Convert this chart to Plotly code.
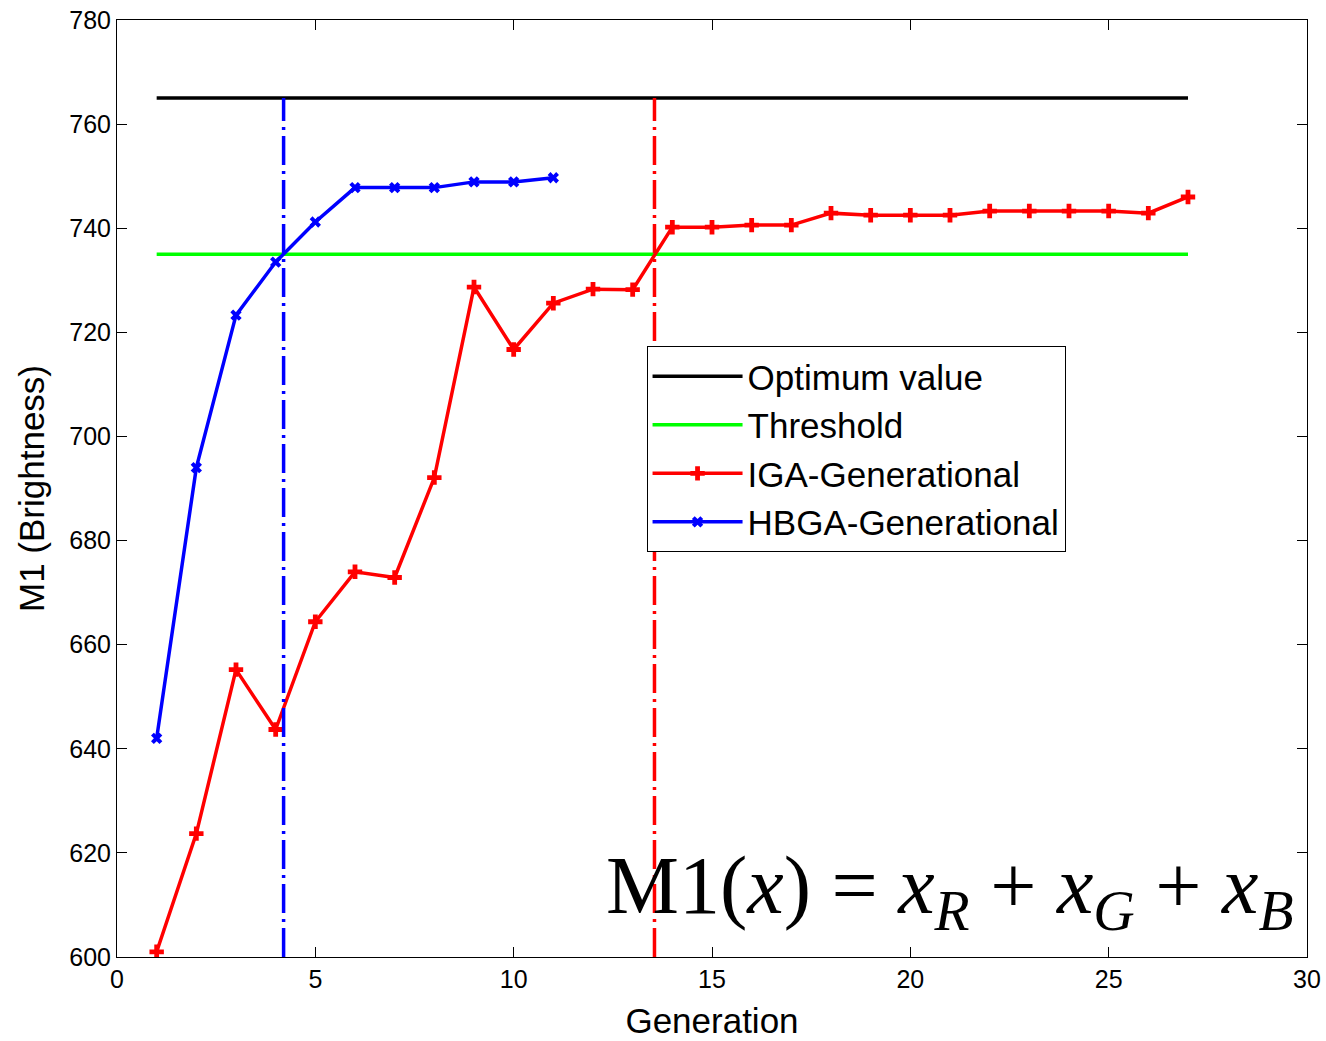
import plotly.graph_objects as go

generations_iga = list(range(1, 28))
iga_values = [601.0, 623.7, 655.2, 643.7, 664.4, 674.0, 672.9, 692.1, 728.7, 716.7,
              725.6, 728.3, 728.2, 740.2, 740.2, 740.6, 740.6, 742.9, 742.5, 742.5,
              742.5, 743.3, 743.3, 743.3, 743.3, 742.9, 746.0]
generations_hbga = list(range(1, 12))
hbga_values = [642.0, 694.0, 723.3, 733.5, 741.2, 747.8, 747.8, 747.8, 748.9, 748.9, 749.7]
optimum_value = 765
threshold_value = 735
hbga_cross = 4.2
iga_cross = 13.55
x_span = [1, 27]

dashdot = "29px,6px,3px,6px"

fig = go.Figure()
fig.add_trace(go.Scatter(x=x_span, y=[optimum_value]*2, mode="lines",
                         line=dict(color="black", width=3.5), name="Optimum value"))
fig.add_trace(go.Scatter(x=x_span, y=[threshold_value]*2, mode="lines",
                         line=dict(color="#00ff00", width=3.5), name="Threshold"))
fig.add_trace(go.Scatter(x=generations_iga, y=iga_values, mode="lines+markers",
                         line=dict(color="red", width=3.5),
                         marker=dict(symbol="cross", size=12, color="red"),
                         name="IGA-Generational"))
fig.add_trace(go.Scatter(x=generations_hbga, y=hbga_values, mode="lines+markers",
                         line=dict(color="blue", width=3.5),
                         marker=dict(symbol="x", size=10, color="blue"),
                         name="HBGA-Generational"))
fig.add_trace(go.Scatter(x=[hbga_cross]*2, y=[600, optimum_value], mode="lines",
                         line=dict(color="blue", width=3.5, dash=dashdot),
                         showlegend=False))
fig.add_trace(go.Scatter(x=[iga_cross]*2, y=[600, optimum_value], mode="lines",
                         line=dict(color="red", width=3.5, dash=dashdot),
                         showlegend=False))

axis_common = dict(showline=True, linecolor="black", linewidth=1, mirror="ticks",
                   ticks="inside", ticklen=10, tickcolor="black", showgrid=False,
                   zeroline=False, automargin=False,
                   tickfont=dict(family="Liberation Sans, Arial", size=25, color="black"))
fig.update_xaxes(range=[0, 30], tickvals=[0, 5, 10, 15, 20, 25, 30],
                 title=dict(text="Generation", font=dict(family="Liberation Sans, Arial", size=35, color="black"),
                            standoff=16),
                 **axis_common)
fig.update_yaxes(range=[600, 780], tickvals=list(range(600, 781, 20)),
                 title=dict(text="M1 (Brightness)", font=dict(family="Liberation Sans, Arial", size=35, color="black"),
                            standoff=14),
                 **axis_common)

fig.add_annotation(
    xref="paper", yref="paper", x=0.99, y=0.014, xanchor="right", yanchor="bottom",
    text="M1(<i>x</i>) = <i>x</i><sub><i>R</i></sub> + <i>x</i><sub><i>G</i></sub> + <i>x</i><sub><i>B</i></sub>",
    showarrow=False,
    font=dict(family="Liberation Serif, Times New Roman", size=82, color="black"))

fig.update_layout(
    width=1326, height=1041,
    margin=dict(l=117, r=19, t=20, b=84),
    paper_bgcolor="white", plot_bgcolor="white",
    legend=dict(x=0.445, y=0.652, xanchor="left", yanchor="top",
                bordercolor="black", borderwidth=1, bgcolor="white",
                itemwidth=90,
                font=dict(family="Liberation Sans, Arial", size=35, color="black"),
                tracegroupgap=0),
)

fig.write_html("out.html")
